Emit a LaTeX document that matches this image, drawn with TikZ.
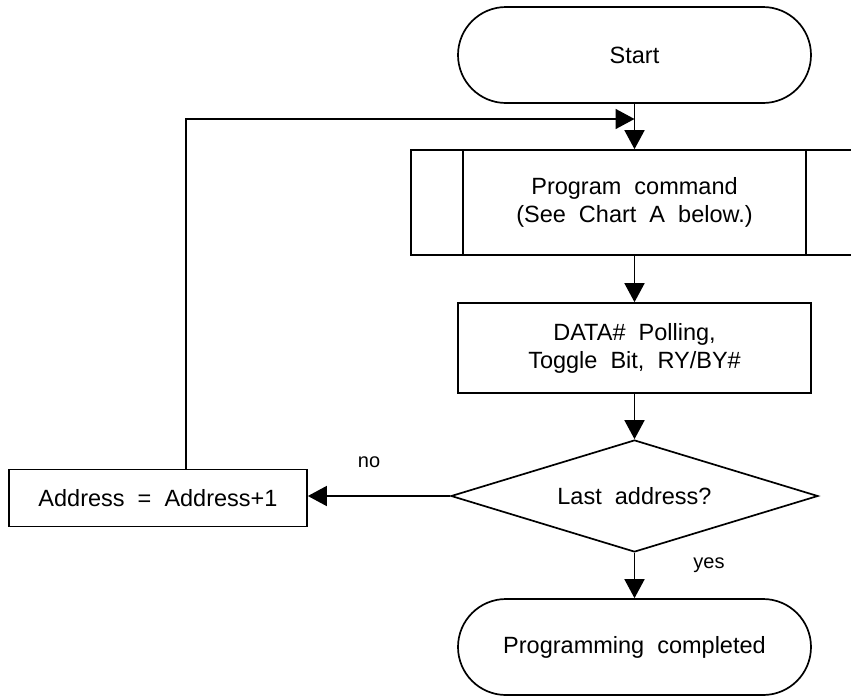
\documentclass[tikz,border=0pt]{standalone}
\usepackage{fontspec}
\setmainfont{Liberation Sans}[WordSpace=2]
\usetikzlibrary{arrows.meta,shapes.geometric}
\begin{document}
\begin{tikzpicture}[x=1pt,y=-1pt,
  line width=1.7pt,
  every node/.style={font=\fontsize{23.5}{28}\selectfont, align=center, inner sep=0pt},
  terminal/.style={draw, rectangle, rounded corners=48pt, minimum width=353pt, minimum height=96pt},
  procbox/.style={draw, rectangle},
  decision/.style={draw, diamond, shape aspect=3.28, minimum width=367pt, minimum height=112pt},
  flow/.style={-{Triangle[length=19pt,width=20pt]}},
  lbl/.style={font=\fontsize{20}{24}\selectfont}
]
\useasboundingbox (0,0) rectangle (851,697);
\clip (0,0) rectangle (851,697);

% nodes
\node[terminal] (start) at (634.5,55) {Start};
\node[procbox, minimum width=447pt, minimum height=105pt] (prog) at (634.5,202.5)
  {Program command\\(See Chart A below.)};
\draw ([xshift=53pt]prog.north west) -- ([xshift=53pt]prog.south west);
\draw ([xshift=-53pt]prog.north east) -- ([xshift=-53pt]prog.south east);
\node[procbox, minimum width=353pt, minimum height=90pt] (poll) at (634.5,348)
  {DATA\# Polling,\\Toggle Bit, RY/BY\#};
\node[decision] (last) at (634.5,496) {Last address?};
\node[procbox, minimum width=298pt, minimum height=57pt] (addr) at (158,498) {Address = Address+1};
\node[terminal] (done) at (634.5,647) {Programming completed};

% loop-back route
\coordinate (loopup) at (186,119);
\coordinate (join) at (634.5,119);

% connectors
\draw[flow] (start) -- (prog);
\draw[flow] (prog) -- (poll);
\draw[flow] (poll) -- (last);
\draw[flow] (last.west) -- (last.west -| addr.east);
\draw[flow] (last) -- (done);
\draw[flow] (addr.north -| loopup) -- (loopup) -- (join);

% branch labels
\node[lbl] (nolbl) at (369,462) {no};
\node[lbl] (yeslbl) at (709,565) {yes};
\end{tikzpicture}
\end{document}
